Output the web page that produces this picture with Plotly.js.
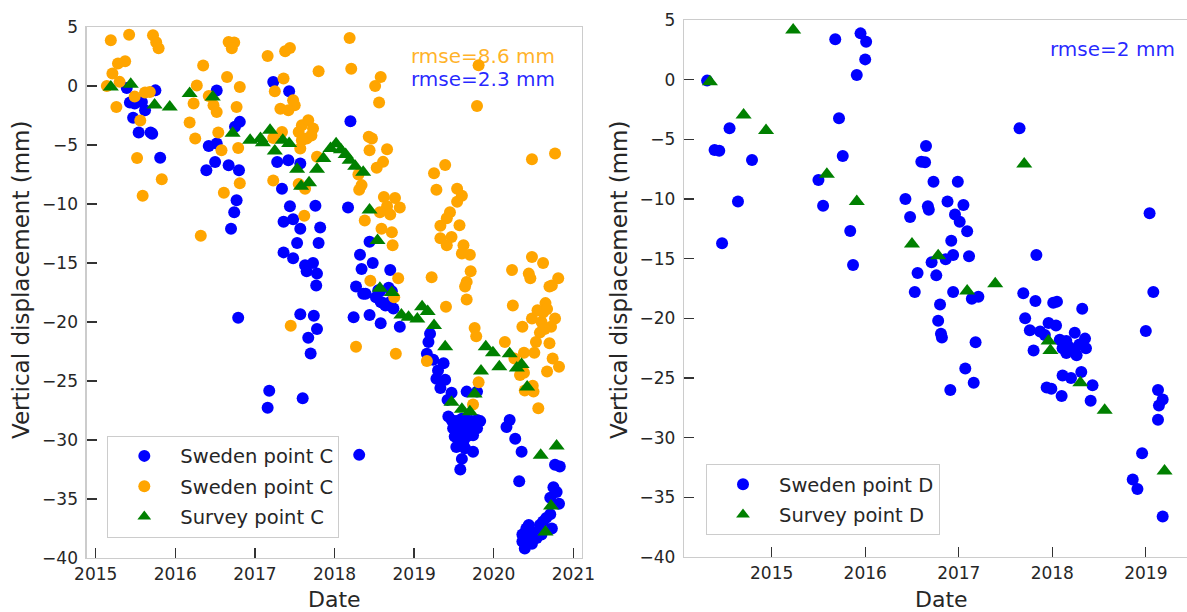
<!DOCTYPE html>
<html>
<head>
<meta charset="utf-8">
<script src="https://cdn.plot.ly/plotly-3.0.1.min.js"></script>
<style>html,body{margin:0;padding:0;background:#fff;}#chart{width:1187px;height:612px;}</style>
</head>
<body>
<div id="chart"></div>
<script>
// ---------- Left panel: point C ----------
const cBlueYear = [2015.39,2015.75,2015.43,2015.49,2015.58,2015.62,2015.47,2015.54,2015.69,2015.71,2015.81,2016.52,2016.81,2016.75,2016.42,2016.52,2016.50,2016.39,2016.67,2016.80,2016.77,2016.74,2016.70,2017.23,2017.43,2017.28,2017.42,2017.57,2017.34,2017.44,2017.76,2017.36,2017.48,2017.57,2017.53,2017.82,2017.80,2017.36,2017.48,2017.63,2017.73,2017.65,2017.78,2017.77,
2016.79,2017.57,2017.74,2017.78,2017.67,2017.70,2017.18,2017.16,2017.60,
2018.20,2018.17,2018.44,2018.32,2018.34,2018.48,2018.70,2018.27,2018.39,2018.52,2018.58,2018.64,2018.72,2018.68,2018.55,2018.24,2018.44,2018.58,2018.82,2018.31,
2018.36,2018.61,2018.74,2018.70,2018.57,
2019.20,2019.18,2019.16,2019.24,2019.37,2019.30,2019.28,2019.39,2019.33,2019.47,2019.42,2019.43,2019.47,2019.53,2019.60,2019.66,2019.72,2019.79,2019.83,2019.49,2019.56,2019.62,2019.70,2019.79,2019.51,2019.60,2019.66,2019.74,2019.53,2019.64,2019.74,2019.60,2019.58,2019.66,2019.79,2019.62,
2020.20,2020.16,2020.27,2020.35,2020.32,2020.77,2020.83,2020.75,2020.79,2020.82,2020.71,2020.41,2020.36,2020.46,2020.39,2020.50,2020.54,2020.58,2020.62,2020.66,2020.36,2020.42,2020.48,2020.54,2020.71,2020.73,2020.44,2020.60];
const cBlueDisp = [-0.17,-0.37,-1.4,-1.48,-1.35,-2.06,-2.7,-3.94,-3.94,-4.05,-6.08,-0.39,-3.04,-3.46,-5.08,-4.88,-6.44,-7.14,-6.71,-7.14,-9.68,-10.7,-12.1,0.34,-0.45,-6.44,-6.3,-6.57,-8.7,-10.2,-10.15,-11.5,-11.3,-12.1,-13.3,-12.0,-13.3,-14.1,-14.6,-15.2,-15.0,-15.7,-15.9,-16.9,
-19.64,-19.35,-19.47,-20.6,-21.33,-22.66,-25.82,-27.26,-26.47,
-2.99,-10.3,-13.2,-14.3,-15.5,-15.0,-15.6,-17.0,-17.6,-17.9,-18.3,-18.6,-17.4,-17.1,-17.3,-19.6,-19.4,-20.1,-20.4,-31.26,
-17.6,-18.4,-18.85,-18.3,-17.4,
-21.0,-21.7,-22.7,-23.2,-23.5,-24.1,-24.8,-24.9,-25.6,-26.0,-26.6,-28.0,-28.3,-28.4,-28.2,-28.3,-28.4,-28.3,-28.4,-29.0,-29.1,-29.0,-28.9,-29.0,-29.7,-29.9,-29.7,-29.6,-30.6,-30.7,-31.0,-31.6,-32.5,-25.9,-25.9,-30.1,
-28.3,-28.9,-29.9,-31.0,-33.5,-32.1,-32.25,-34.0,-34.4,-35.4,-34.9,-37.5,-38.0,-38.3,-39.2,-37.9,-37.8,-37.2,-36.9,-36.6,-38.6,-38.6,-38.8,-38.3,-36.3,-37.5,-37.2,-38.0];

const cOrangeYear = [2015.19,2015.42,2015.72,2015.76,2015.79,2015.28,2015.37,2015.21,2015.30,2015.14,2015.49,2015.62,2015.68,2015.26,2015.56,2015.52,2015.83,2015.59,
2016.67,2016.74,2016.71,2016.35,2016.65,2016.27,2016.81,2016.23,2016.42,2016.48,2016.52,2016.77,2016.18,2016.25,2016.54,2016.58,2016.79,2016.81,2016.61,2016.32,
2017.16,2017.38,2017.44,2017.80,2017.36,2017.25,2017.48,2017.50,2017.32,2017.42,2017.59,2017.67,2017.73,2017.55,2017.65,2017.71,2017.59,2017.34,2017.23,2017.57,2017.78,2017.23,2017.55,2017.63,2017.62,2017.45,
2018.19,2018.21,2018.58,2018.51,2018.56,2019.79,2019.81,2018.43,2018.47,2018.44,2018.66,2018.61,2018.53,2020.48,2020.77,2019.39,2019.25,2018.30,2018.34,2018.31,2018.62,2018.76,2018.82,2018.66,2018.57,2018.38,2018.70,2018.59,2018.72,2018.73,
2019.28,2019.54,2019.60,2019.54,2019.45,2019.41,2019.33,2019.57,2019.33,2019.41,2019.47,2019.62,2019.70,2019.60,2019.71,2019.66,2019.22,2018.45,2018.80,2018.75,2018.77,2018.27,2019.16,2019.40,2019.64,2019.66,2019.76,2019.78,2019.81,2019.74,
2020.23,2020.44,2020.48,2020.62,2020.81,2020.73,2020.46,2020.70,2020.65,2020.24,2020.48,2020.55,2020.77,2020.72,2020.64,2020.36,2020.53,2020.70,2020.14,2020.26,2020.38,2020.51,2020.74,2020.82,2020.67,2020.38,2020.60,2020.58,2020.62,2020.67,2020.33,2020.49,2020.39,2020.56,2020.50];
const cOrangeDisp = [3.87,4.35,4.3,3.7,3.2,1.9,2.1,1.05,0.35,0.0,-0.9,-0.55,-0.5,-1.77,-2.93,-6.1,-7.9,-9.3,
3.73,3.68,3.2,1.74,0.77,0.05,-0.08,-1.49,-0.84,-1.63,-2.2,-1.77,-3.1,-4.45,-3.95,-5.45,-5.25,-8.25,-9.05,-12.7,
2.54,2.94,3.23,1.25,0.63,-0.45,-1.21,-1.63,-1.92,-2.06,-3.33,-2.9,-3.6,-3.9,-4.45,-4.2,-4.59,-3.9,-4.4,-5.3,-6.0,-8.0,-8.3,-8.7,-11.0,-20.31,
4.07,1.47,0.77,0.0,-1.4,-1.69,1.76,-4.3,-4.45,-5.44,-5.36,-6.43,-6.93,-6.2,-5.73,-6.7,-7.4,-7.5,-8.4,-8.8,-9.4,-9.5,-10.3,-10.2,-10.7,-11.4,-10.9,-12.1,-12.4,-13.5,
-8.8,-8.7,-9.3,-9.8,-10.7,-11.2,-11.85,-11.8,-12.9,-13.5,-12.8,-13.5,-14.3,-14.2,-15.7,-16.6,-16.2,-16.5,-16.3,-17.9,-22.7,-22.1,-23.3,-18.7,-17.0,-18.1,-20.5,-21.2,-25.1,-27.0,
-15.6,-15.9,-14.5,-15.0,-16.3,-16.9,-16.3,-17.0,-18.4,-18.6,-19.7,-19.0,-19.7,-20.4,-20.6,-20.4,-21.7,-21.8,-21.7,-23.1,-22.6,-22.6,-23.1,-23.8,-24.2,-24.3,-20.0,-20.9,-19.2,-18.9,-24.5,-25.4,-25.8,-27.3,-25.9];

const cSurveyYear = [2015.19,2015.44,2015.74,2015.93,2016.18,2016.47,2016.72,2016.94,2017.07,2017.19,2017.10,2017.25,2017.35,2017.43,2017.53,2017.58,2017.68,2017.78,2017.86,2017.95,2018.02,2018.08,2018.14,2018.19,2018.26,2018.36,2018.44,2018.54,2018.57,2018.72,2018.84,2018.93,2019.04,2019.10,2019.17,2019.25,2019.39,2019.47,2019.60,2019.70,2019.76,2019.84,2019.90,2019.99,2020.07,2020.20,2020.29,2020.35,2020.42,2020.59,2020.79,2020.72,2020.65];
const cSurveyDisp = [-0.08,0.14,-1.6,-1.77,-0.64,-0.93,-4.0,-4.6,-4.45,-3.75,-4.8,-5.5,-4.6,-4.87,-7.05,-8.5,-8.2,-7.05,-6.15,-5.3,-4.9,-5.4,-5.8,-6.3,-6.8,-7.3,-10.5,-13.1,-17.15,-17.5,-19.4,-19.6,-19.75,-18.7,-19.1,-20.3,-22.1,-26.8,-27.4,-27.6,-26.1,-24.15,-22.1,-22.6,-23.8,-22.7,-23.9,-23.6,-25.5,-31.3,-30.5,-35.6,-37.8];

// ---------- Right panel: point D ----------
const dSwedenYear = [2014.31,2014.55,2014.39,2014.44,2014.79,2014.64,2014.47,2015.68,2015.95,2016.01,2016.00,2015.91,2015.72,2015.76,2015.50,2015.55,2015.84,2015.87,
2017.65,2016.65,2016.60,2016.64,2016.73,2016.99,2016.43,2016.48,2016.67,2016.68,2016.88,2017.05,2016.96,2017.01,2017.09,2016.92,2016.94,2016.86,2017.11,2016.71,2016.56,2016.76,2016.53,2016.94,2017.21,2017.69,2017.83,2019.04,2019.08,
2017.14,2016.80,2016.78,2016.81,2016.82,2017.18,2017.07,2017.16,2016.91,2017.82,2018.01,2018.05,2017.71,2018.32,2017.76,2017.87,2017.96,2018.04,2017.92,2018.08,2018.15,2018.24,2018.35,2018.11,2018.18,2018.24,2018.29,2018.36,2018.15,2018.26,2017.80,2018.11,2018.20,2018.31,2018.43,2017.94,2017.99,2018.10,2018.41,
2019.00,2019.13,2019.18,2019.14,2019.13,2018.96,2018.86,2018.91,2019.18];
const dSwedenDisp = [-0.08,-4.08,-5.9,-5.95,-6.73,-10.2,-13.7,3.38,3.88,3.18,1.7,0.39,-3.24,-6.4,-8.41,-10.56,-12.68,-15.53,
-4.08,-5.56,-6.87,-6.93,-8.55,-8.55,-10.0,-11.5,-10.6,-10.9,-10.2,-10.5,-11.3,-11.9,-12.7,-13.5,-14.7,-15.05,-14.8,-15.3,-16.2,-16.4,-17.8,-17.8,-18.2,-17.9,-14.7,-11.2,-17.8,
-18.35,-18.85,-20.2,-21.3,-21.6,-22.0,-24.2,-25.4,-26.0,-18.55,-18.7,-18.6,-20.0,-19.2,-21.0,-21.1,-20.4,-20.6,-21.4,-21.8,-21.9,-21.2,-21.7,-22.5,-22.4,-22.8,-22.2,-22.5,-22.9,-23.1,-22.7,-24.8,-25.0,-24.5,-25.6,-25.8,-25.9,-26.5,-26.9,
-21.06,-26.0,-26.8,-27.3,-28.5,-31.3,-33.5,-34.3,-36.6];

const dSurveyYear = [2014.34,2015.23,2014.70,2014.94,2015.59,2015.91,2016.50,2016.78,2017.70,2017.09,2017.39,2017.96,2017.98,2018.30,2018.56,2019.20];
const dSurveyDisp = [-0.17,4.16,-2.96,-4.27,-7.93,-10.2,-13.77,-14.75,-7.07,-17.7,-17.1,-21.9,-22.7,-25.4,-27.7,-32.8];

const leftYearTicks = [2015,2016,2017,2018,2019,2020,2021];
const rightYearTicks = [2015,2016,2017,2018,2019];
const dispTicks = [5,0,-5,-10,-15,-20,-25,-30,-35,-40];

const W = 1187, H = 612;
const FONT = 'DejaVu Sans, Verdana, sans-serif';
const TXT = '#262626';

function mk(x, y, name, color, symbol, size, xa, ya, leg, grp) {
  return {type:'scatter', mode:'markers', x:x, y:y, name:name, xaxis:xa, yaxis:ya,
    legend:leg, legendgroup:grp,
    marker:{color:color, symbol:symbol, size:size, line:{width:0}}};
}
const traces = [
  mk(cBlueYear, cBlueDisp, 'Sweden point C', 'blue', 'circle', 12, 'x', 'y', 'legend', 'a'),
  mk(cOrangeYear, cOrangeDisp, 'Sweden point C', 'orange', 'circle', 12, 'x', 'y', 'legend', 'b'),
  mk(cSurveyYear, cSurveyDisp, 'Survey point C', 'green', 'triangle-up', 14, 'x', 'y', 'legend', 'c'),
  mk(dSwedenYear, dSwedenDisp, 'Sweden point D', 'blue', 'circle', 12, 'x2', 'y2', 'legend2', 'd'),
  mk(dSurveyYear, dSurveyDisp, 'Survey point D', 'green', 'triangle-up', 14, 'x2', 'y2', 'legend2', 'e')
];

function xax(dom, rng, ticks, anchor) {
  return {domain:dom, range:rng, anchor:anchor, tickmode:'array', tickvals:ticks, ticktext:ticks.map(String),
    ticks:'inside', ticklen:10, tickwidth:1.3, tickcolor:'#333', showline:true, linecolor:'#cccccc', linewidth:1.3,
    mirror:true, showgrid:false, zeroline:false, tickfont:{family:FONT, size:17, color:TXT}, ticklabelstandoff:0};
}
function yax(dom, anchor, mirror) {
  return {domain:dom, range:[-40,5], anchor:anchor, tickmode:'array', tickvals:dispTicks, ticktext:dispTicks.map(v => v<0 ? '\u2212'+Math.abs(v) : String(v)),
    ticks:'inside', ticklen:10, tickwidth:1.3, tickcolor:'#333', showline:true, linecolor:'#cccccc', linewidth:1.3,
    mirror:mirror, showgrid:false, zeroline:false, tickfont:{family:FONT, size:17, color:TXT}, ticklabelstandoff:4};
}

const legendStyle = (x, y) => ({x:x, y:y, xanchor:'left', yanchor:'top', xref:'paper', yref:'paper',
  bgcolor:'rgba(255,255,255,0.85)', bordercolor:'#cccccc', borderwidth:1,
  font:{family:FONT, size:19.5, color:TXT}, itemwidth:62, tracegroupgap:2, itemsizing:'constant'});

const layout = {
  width:W, height:H, margin:{l:0, r:0, t:0, b:0}, paper_bgcolor:'#fff', plot_bgcolor:'#fff',
  font:{family:FONT, color:TXT},
  showlegend:true,
  xaxis: xax([86.7/W, 581.7/W], [2014.887, 2021.105], leftYearTicks, 'y'),
  yaxis: yax([1-558/H, 1-27/H], 'x', true),
  xaxis2: xax([684/W, 1], [2014.063, 2019.44], rightYearTicks, 'y2'),
  yaxis2: yax([1-557/H, 1-20/H], 'x2', false),
  legend: legendStyle(107.3/W, 1-435.7/H),
  legend2: legendStyle(706/W, 1-464/H),
  annotations: [
    {text:'Vertical displacement (mm)', xref:'paper', yref:'paper', x:21/W, y:1-280/H, textangle:-90, showarrow:false, font:{family:FONT, size:23, color:TXT}, xanchor:'center', yanchor:'middle'},
    {text:'Vertical displacement (mm)', xref:'paper', yref:'paper', x:619/W, y:1-280/H, textangle:-90, showarrow:false, font:{family:FONT, size:23, color:TXT}, xanchor:'center', yanchor:'middle'},
    {text:'Date', xref:'paper', yref:'paper', x:334/W, y:1-599/H, showarrow:false, font:{family:FONT, size:22, color:TXT}, xanchor:'center', yanchor:'middle'},
    {text:'Date', xref:'paper', yref:'paper', x:941/W, y:1-599/H, showarrow:false, font:{family:FONT, size:22, color:TXT}, xanchor:'center', yanchor:'middle'},
    {text:'rmse=8.6 mm', xref:'paper', yref:'paper', x:557/W, y:1-55.7/H, showarrow:false, font:{family:FONT, size:20, color:'rgba(255,165,0,0.85)'}, xanchor:'right', yanchor:'middle'},
    {text:'rmse=2.3 mm', xref:'paper', yref:'paper', x:557/W, y:1-79/H, showarrow:false, font:{family:FONT, size:20, color:'rgba(0,0,255,0.85)'}, xanchor:'right', yanchor:'middle'},
    {text:'rmse=2 mm', xref:'paper', yref:'paper', x:1177/W, y:1-49.3/H, showarrow:false, font:{family:FONT, size:20, color:'rgba(0,0,255,0.85)'}, xanchor:'right', yanchor:'middle'}
  ]
};

Plotly.newPlot('chart', traces, layout, {staticPlot:true, displayModeBar:false});
</script>
</body>
</html>
